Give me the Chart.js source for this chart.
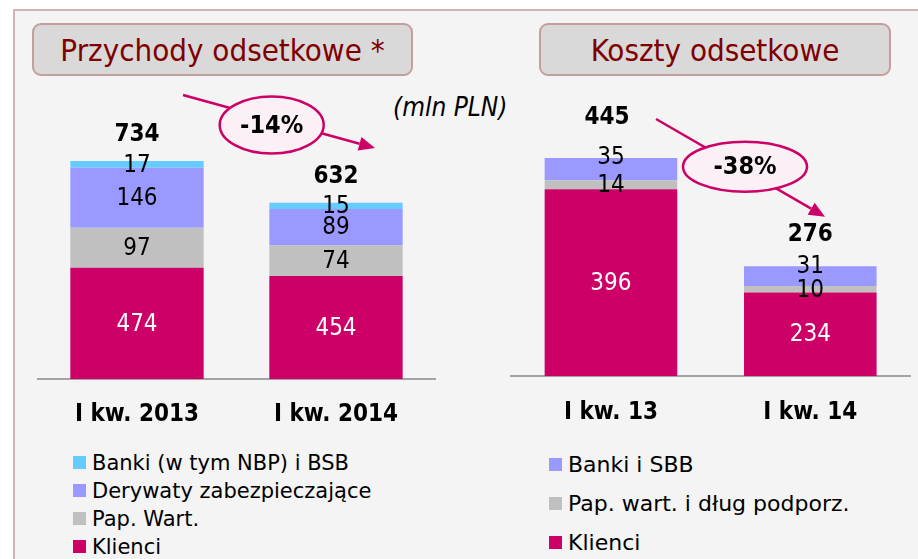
<!DOCTYPE html>
<html>
<head>
<meta charset="utf-8">
<script src="https://cdn.jsdelivr.net/npm/chart.js@4.4.1/dist/chart.umd.min.js"></script>
<style>
  html, body { margin: 0; padding: 0; background: #ffffff; }
  body { width: 918px; height: 559px; position: relative; overflow: hidden; font-family: "DejaVu Sans", sans-serif; }
  #panel { position: absolute; left: 13px; top: 9px; width: 940px; height: 600px; background: #f4f4f4; border-left: 2px solid #d2b4b4; border-top: 2px solid #d2b4b4; box-sizing: border-box; }
  .title { position: absolute; top: 23px; height: 53px; box-sizing: border-box; border: 2px solid #c49e9e; border-radius: 9px; background: #d9d9d9; color: #800000; font-family: "DejaVu Sans Condensed", "DejaVu Sans", sans-serif; font-size: 31px; display: flex; align-items: center; justify-content: center; }
  .unit { position: absolute; left: 393px; top: 92px; font-family: "DejaVu Sans Condensed", "DejaVu Sans", sans-serif; font-size: 26px; font-style: italic; color: #000; }
  canvas { position: absolute; }
  .legend { position: absolute; color: #000; }
  .legend .item { position: absolute; left: 0; white-space: nowrap; height: 24px; line-height: 24px; }
  .legend .sw { position: absolute; left: 0; top: 5px; width: 13px; height: 13px; }
  .legend .tx { position: absolute; left: 19px; top: 0; }
</style>
</head>
<body>
<div id="panel"></div>
<div class="title" style="left:32px;width:381px;">Przychody odsetkowe *</div>
<div class="title" style="left:539px;width:352px;">Koszty odsetkowe</div>
<div class="unit">(mln PLN)</div>
<canvas id="c1" width="460" height="360" style="left:0px;top:80px;"></canvas>
<canvas id="c2" width="458" height="360" style="left:460px;top:80px;"></canvas>
<div class="legend" id="leg1" style="left:73px;top:451px;font-size:21px;"></div>
<div class="legend" id="leg2" style="left:549px;top:453px;font-size:22px;"></div>
<script>
// ---- Data: Przychody odsetkowe (mln PLN)
const incomeCategories = ['I kw. 2013', 'I kw. 2014'];
const incomeKlienci = [474, 454];
const incomePapWart = [97, 74];
const incomeDerywaty = [146, 89];
const incomeBanki = [17, 15];
const incomeTotals = [734, 632];
const incomeChange = '-14%';

// ---- Data: Koszty odsetkowe (mln PLN)
const costCategories = ['I kw. 13', 'I kw. 14'];
const costKlienci = [396, 234];
const costPapWart = [14, 10];
const costBanki = [35, 31];
const costTotals = [445, 276];
const costChange = '-38%';

const C_KLIENCI = '#cc0066';
const C_PAP = '#c0c0c0';
const C_DER = '#9999ff';
const C_BANKI = '#66ccff';
const FONT = '"DejaVu Sans Condensed", "DejaVu Sans", sans-serif';

const labelsPlugin = {
  id: 'stackLabels',
  afterDatasetsDraw(chart, args, opts) {
    const ctx = chart.ctx;
    const area = chart.chartArea;
    ctx.save();
    ctx.textAlign = 'center';
    ctx.textBaseline = 'middle';
    chart.data.datasets.forEach((ds, di) => {
      const meta = chart.getDatasetMeta(di);
      meta.data.forEach((bar, i) => {
        const top = bar.y;
        const bottom = Math.min(bar.base, area.bottom);
        let y = (top + bottom) / 2;
        if (ds.labelAnchor === 'top') y = top - 1;
        ctx.font = '24px ' + FONT;
        ctx.fillStyle = ds.labelColor || '#000';
        ctx.fillText(String(ds.data[i]), bar.x, y + 1);
      });
    });
    // totals
    const lastMeta = chart.getDatasetMeta(chart.data.datasets.length - 1);
    ctx.font = 'bold 24px ' + FONT;
    ctx.fillStyle = '#000';
    opts.totals.forEach((t, i) => {
      const bar = lastMeta.data[i];
      ctx.fillText(String(t), bar.x + (opts.totalDx ? opts.totalDx[i] : 0), bar.y - opts.totalOffsets[i]);
    });
    // change annotation
    const a = opts.arrow;
    ctx.strokeStyle = C_KLIENCI;
    ctx.fillStyle = C_KLIENCI;
    ctx.lineWidth = 2.5;
    const dx = a.tip[0] - a.start[0], dy = a.tip[1] - a.start[1];
    const len = Math.hypot(dx, dy);
    const ux = dx / len, uy = dy / len;
    const headL = 16, headW = 7;
    const bx = a.tip[0] - ux * headL, by = a.tip[1] - uy * headL;
    ctx.beginPath();
    ctx.moveTo(a.start[0], a.start[1]);
    ctx.lineTo(bx, by);
    ctx.stroke();
    ctx.beginPath();
    ctx.moveTo(a.tip[0], a.tip[1]);
    ctx.lineTo(bx - uy * headW, by + ux * headW);
    ctx.lineTo(bx + uy * headW, by - ux * headW);
    ctx.closePath();
    ctx.fill();
    ctx.beginPath();
    ctx.ellipse(a.center[0], a.center[1], a.rx, a.ry, 0, 0, Math.PI * 2);
    ctx.fillStyle = '#fbf0f5';
    ctx.fill();
    ctx.lineWidth = 2.5;
    ctx.stroke();
    ctx.fillStyle = '#000';
    ctx.font = 'bold 25px ' + FONT;
    ctx.fillText(opts.changeText, a.center[0], a.center[1] + 1);
    ctx.restore();
  }
};

function makeChart(id, categories, datasets, cfg) {
  return new Chart(document.getElementById(id), {
    type: 'bar',
    data: { labels: categories, datasets: datasets },
    plugins: [labelsPlugin],
    options: {
      responsive: false,
      animation: false,
      devicePixelRatio: 1,
      layout: { padding: cfg.padding },
      plugins: {
        legend: { display: false },
        tooltip: { enabled: false },
        stackLabels: { totals: cfg.totals, totalOffsets: cfg.totalOffsets, totalDx: cfg.totalDx, arrow: cfg.arrow, changeText: cfg.changeText }
      },
      datasets: { bar: { categoryPercentage: 1, barPercentage: cfg.barPct, borderWidth: 0 } },
      scales: {
        x: {
          stacked: true,
          grid: { display: false, drawTicks: false },
          border: { display: true, color: '#a3a3a3', width: 2 },
          ticks: { color: '#000', font: { family: FONT, size: 24, weight: 'bold' }, padding: cfg.tickPad },
          afterFit: (scale) => { scale.height = cfg.xHeight; }
        },
        y: { stacked: true, display: false, min: cfg.min, max: cfg.max }
      }
    }
  });
}

makeChart('c1', incomeCategories, [
  { label: 'Klienci', data: incomeKlienci, backgroundColor: C_KLIENCI, labelColor: '#fff' },
  { label: 'Pap. Wart.', data: incomePapWart, backgroundColor: C_PAP },
  { label: 'Derywaty zabezpieczające', data: incomeDerywaty, backgroundColor: C_DER },
  { label: 'Banki (w tym NBP) i BSB', data: incomeBanki, backgroundColor: C_BANKI }
], {
  padding: { left: 37.5, right: 24.5, top: 32, bottom: 0 },
  xHeight: 61, tickPad: 21, barPct: 0.67, min: 203, max: 853,
  totals: incomeTotals, totalOffsets: [26, 26],
  arrow: { start: [183, 15], center: [271.7, 45], rx: 52, ry: 28.5, tip: [375, 68] },
  changeText: incomeChange
});

makeChart('c2', costCategories, [
  { label: 'Klienci', data: costKlienci, backgroundColor: C_KLIENCI, labelColor: '#fff' },
  { label: 'Pap. wart. i dług podporz.', data: costPapWart, backgroundColor: C_PAP },
  { label: 'Banki i SBB', data: costBanki, backgroundColor: C_DER, labelAnchor: 'top' }
], {
  padding: { left: 51.25, right: 8, top: 32, bottom: 0 },
  xHeight: 64, tickPad: 22, barPct: 0.665, min: 103, max: 517,
  totals: costTotals, totalOffsets: [40, 32], totalDx: [-4, 0],
  arrow: { start: [196, 39], center: [285, 86.7], rx: 62, ry: 25, tip: [365, 136.7] },
  changeText: costChange
});

function buildLegend(el, items, spacing) {
  items.forEach((it, i) => {
    const d = document.createElement('div');
    d.className = 'item';
    d.style.top = (i * spacing) + 'px';
    d.innerHTML = '<span class="sw" style="background:' + it[1] + '"></span><span class="tx">' + it[0] + '</span>';
    el.appendChild(d);
  });
}
buildLegend(document.getElementById('leg1'), [
  ['Banki (w tym NBP) i BSB', C_BANKI],
  ['Derywaty zabezpieczające', C_DER],
  ['Pap. Wart.', C_PAP],
  ['Klienci', C_KLIENCI]
], 28);
buildLegend(document.getElementById('leg2'), [
  ['Banki i SBB', C_DER],
  ['Pap. wart. i dług podporz.', C_PAP],
  ['Klienci', C_KLIENCI]
], 39);
</script>
</body>
</html>
